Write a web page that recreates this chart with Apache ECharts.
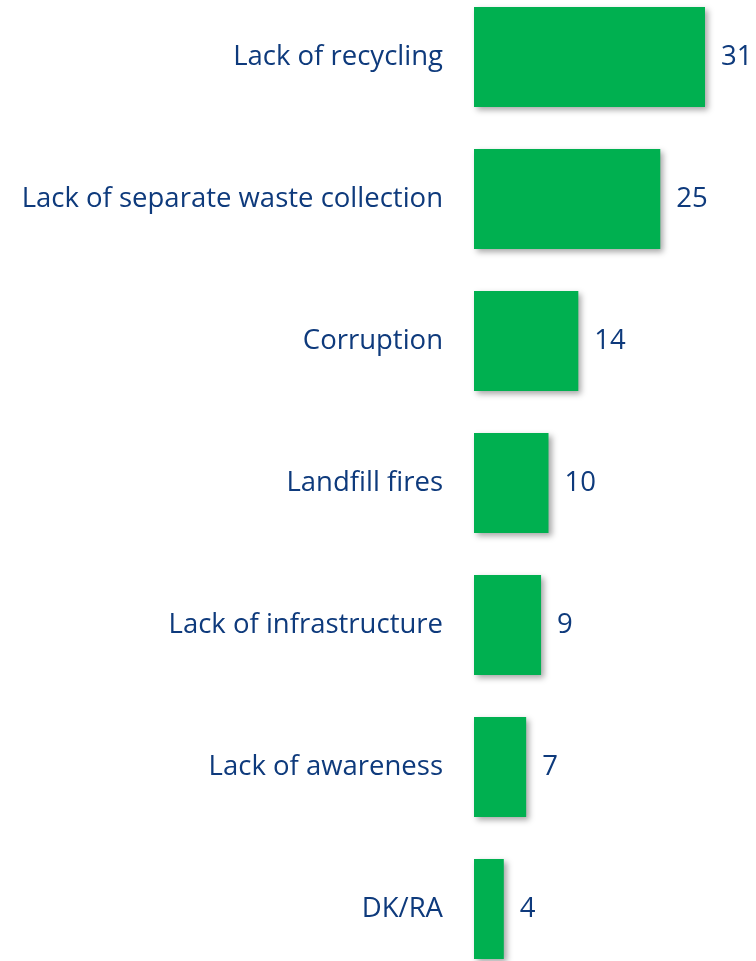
<!DOCTYPE html>
<html>
<head>
<meta charset="utf-8">
<script src="https://cdn.jsdelivr.net/npm/echarts@6/dist/echarts.min.js"></script>
<style>
  html, body { margin: 0; padding: 0; background: #fff; }
  #chart { width: 756px; height: 961px; }
</style>
</head>
<body>
<div id="chart"></div>
<script>
var categories = ['Lack of recycling', 'Lack of separate waste collection', 'Corruption',
                  'Landfill fires', 'Lack of infrastructure', 'Lack of awareness', 'DK/RA'];
var values = [31, 25, 14, 10, 9, 7, 4];

var textColor = '#0E3A7C';

echarts.init(document.getElementById('chart')).setOption({
    animation: false,
    grid: {
        left: 474,
        right: 51,
        top: -14,
        bottom: -19,
        outerBoundsMode: 'none'
    },
    xAxis: {
        type: 'value',
        min: 0,
        max: 31,
        show: false
    },
    yAxis: {
        type: 'category',
        data: categories,
        inverse: true,
        axisTick: { show: false },
        axisLine: { show: false },
        axisLabel: {
            margin: 31,
            color: textColor,
            fontSize: 27.5,
            fontFamily: 'Open Sans'
        }
    },
    series: [
        {
            type: 'bar',
            data: values,
            barWidth: 100,
            itemStyle: {
                color: '#00B050',
                shadowColor: 'rgba(0,0,0,0.35)',
                shadowBlur: 6,
                shadowOffsetX: 3,
                shadowOffsetY: 3
            },
            label: {
                show: true,
                position: 'right',
                distance: 16,
                color: textColor,
                fontSize: 27.5,
                fontFamily: 'Open Sans'
            }
        }
    ]
});
</script>
</body>
</html>
